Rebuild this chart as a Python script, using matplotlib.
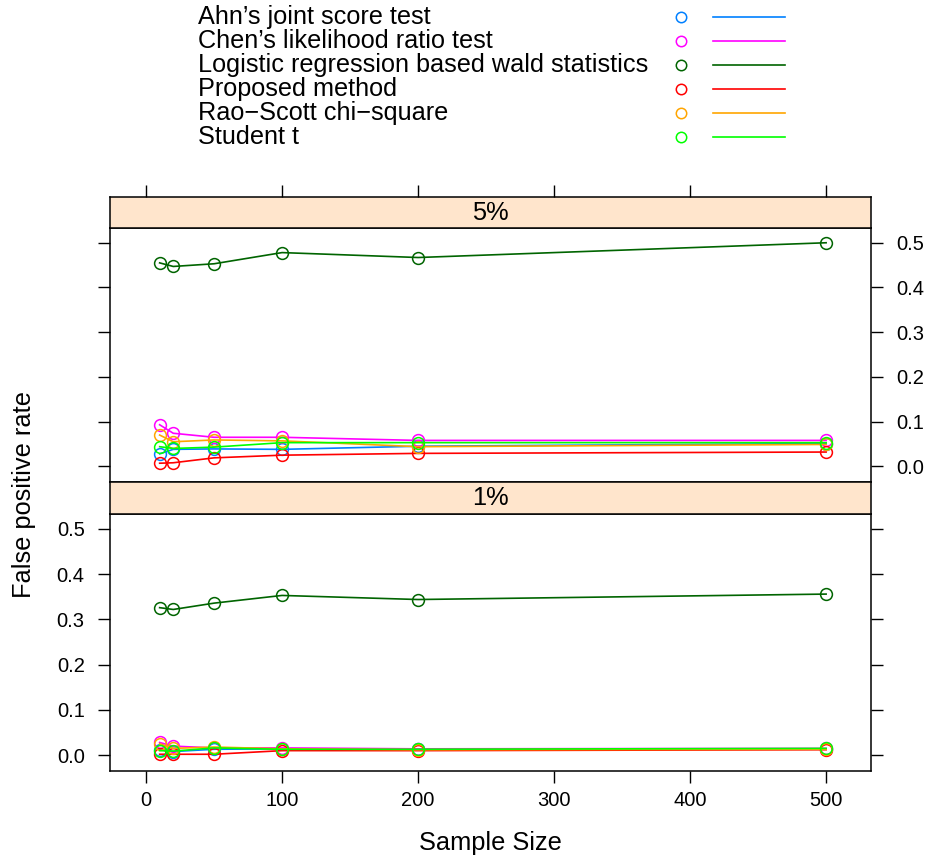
import matplotlib
matplotlib.use("Agg")
import matplotlib.pyplot as plt

plt.rcParams['font.family'] = ['Liberation Sans', 'DejaVu Sans']

sample_sizes = [10, 20, 50, 100, 200, 500]
methods = [
    "Ahn\u2019s joint score test",
    "Chen\u2019s likelihood ratio test",
    "Logistic regression based wald statistics",
    "Proposed method",
    "Rao\u2212Scott chi\u2212square",
    "Student t",
]
colors = ["#0080ff", "#ff00ff", "#006400", "#ff0000", "#ffa500", "#00ff00"]

# false positive rate at nominal 5%
fpr_5 = [
    [0.028, 0.038, 0.039, 0.038, 0.045, 0.051],
    [0.093, 0.074, 0.065, 0.065, 0.058, 0.058],
    [0.455, 0.447, 0.453, 0.478, 0.467, 0.500],
    [0.007, 0.008, 0.019, 0.025, 0.029, 0.032],
    [0.070, 0.055, 0.059, 0.057, 0.044, 0.049],
    [0.044, 0.040, 0.043, 0.053, 0.053, 0.053],
]
# false positive rate at nominal 1%
fpr_1 = [
    [0.012, 0.008, 0.013, 0.014, 0.013, 0.014],
    [0.028, 0.020, 0.016, 0.016, 0.014, 0.015],
    [0.326, 0.322, 0.336, 0.353, 0.344, 0.356],
    [0.002, 0.002, 0.002, 0.010, 0.010, 0.012],
    [0.025, 0.015, 0.018, 0.014, 0.012, 0.013],
    [0.010, 0.009, 0.016, 0.013, 0.013, 0.015],
]
panel_labels = ["5%", "1%"]
yticks = [0.0, 0.1, 0.2, 0.3, 0.4, 0.5]
xticks = [0, 100, 200, 300, 400, 500]

W, H = 929, 858
fig = plt.figure(figsize=(W / 100, H / 100), dpi=100)

def box(x0, y0, x1, y1):
    return [x0 / W, 1 - y1 / H, (x1 - x0) / W, (y1 - y0) / H]

xlim = (-26.5, 533)
ylim = (-0.035, 0.533)
strip_color = "#ffe5cc"
tick_len = 8.7
fs_tick = 14.5
fs_text = 18.3

ax_top = fig.add_axes(box(110, 228, 871, 482))
ax_bot = fig.add_axes(box(110, 514, 871, 771))
strip_top = fig.add_axes(box(110, 197, 871, 228))
strip_bot = fig.add_axes(box(110, 482, 871, 514))

for ax, data in [(ax_top, fpr_5), (ax_bot, fpr_1)]:
    for vals, c in zip(data, colors):
        ax.plot(sample_sizes, vals, color=c, lw=1.2, marker="o", ms=8.5,
                mfc="none", mec=c, mew=1.1)
    ax.set_xlim(*xlim)
    ax.set_ylim(*ylim)
    ax.set_yticks(yticks)
    ax.set_xticks(xticks)
    ax.tick_params(direction="out", length=tick_len, width=1, labelsize=fs_tick)
    ax.tick_params(axis="y", pad=9.5)
    ax.tick_params(axis="x", pad=6)

ax_top.tick_params(axis="y", left=True, right=True, labelleft=False, labelright=True)
ax_top.tick_params(axis="x", bottom=False, labelbottom=False)
ax_bot.tick_params(axis="y", left=True, right=True, labelleft=True, labelright=False)
ax_bot.tick_params(axis="x", bottom=True, top=False, labelbottom=True)
ax_bot.set_yticklabels([f"{v:.1f}" for v in yticks])
ax_top.set_yticklabels([f"{v:.1f}" for v in yticks])

for s, lab in [(strip_top, panel_labels[0]), (strip_bot, panel_labels[1])]:
    s.set_facecolor(strip_color)
    s.set_xlim(*xlim)
    s.set_yticks([])
    s.set_xticks([])
    s.text(0.5, 0.5, lab, transform=s.transAxes, ha="center", va="center",
           fontsize=fs_text)

strip_top.set_xticks(xticks)
strip_top.tick_params(axis="x", bottom=False, top=True, labelbottom=False,
                      labeltop=False, direction="out", length=tick_len, width=1)

for ax in [ax_top, ax_bot, strip_top, strip_bot]:
    for sp in ax.spines.values():
        sp.set_linewidth(1.1)
        sp.set_color("black")

fig.text(24 / W, 1 - 494 / H, "False positive rate", rotation=90,
         ha="center", va="center", fontsize=fs_text)
fig.text(490 / W, 1 - 843 / H, "Sample Size", ha="center", va="center",
         fontsize=fs_text)

# legend block at the top of the figure
leg = fig.add_axes([0, 0, 1, 1], zorder=-1)
leg.set_xlim(0, W)
leg.set_ylim(H, 0)
leg.axis("off")
for i, (name, c) in enumerate(zip(methods, colors)):
    y = 17 + 24 * i
    leg.text(198, y, name, ha="left", va="center", fontsize=18.2)
    leg.plot([681], [y], marker="o", ms=7.5, mfc="none", mec=c, mew=1.1)
    leg.plot([713, 785], [y, y], color=c, lw=1.2)

fig.savefig("out.png", dpi=100)
